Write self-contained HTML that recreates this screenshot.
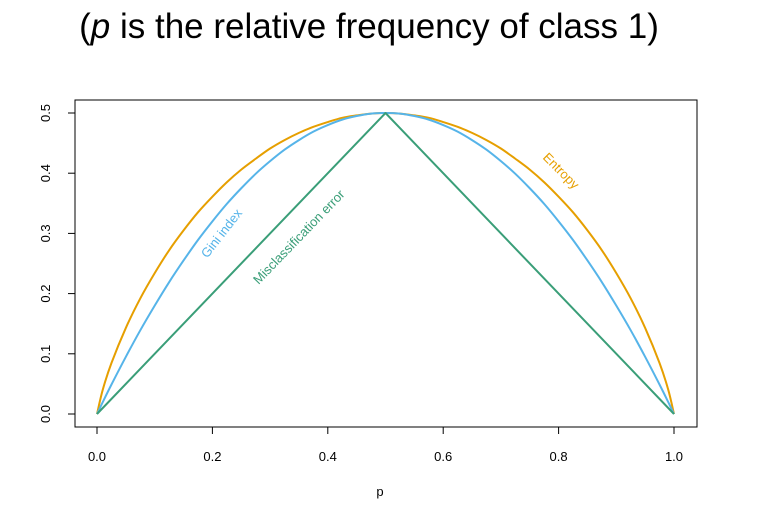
<!DOCTYPE html>
<html><head><meta charset="utf-8"><style>
body{margin:0;background:#fff;}
svg text{font-family:"Liberation Sans",sans-serif;}
</style></head><body>
<svg id="chart" width="760" height="520" viewBox="0 0 760 520">
<text x="369" y="38" text-anchor="middle" font-size="35" fill="#000">(<tspan font-style="italic">p</tspan> is the relative frequency of class 1)</text>
<rect x="75" y="100" width="622" height="327" fill="none" stroke="#000" stroke-width="1"/>
<g id="axes"></g>
<g id="series"></g>
<text x="380" y="496" text-anchor="middle" font-size="13">p</text>
<text transform="translate(225,236) rotate(-52)" text-anchor="middle" font-size="13" fill="#56B4E9">Gini index</text>
<text transform="translate(302,240) rotate(-46)" text-anchor="middle" font-size="13" fill="#3A9E78">Misclassification error</text>
<text transform="translate(558,174) rotate(45)" text-anchor="middle" font-size="13" fill="#E69F00">Entropy</text>
</svg>
<script>
const pVals=[0,0.01,0.025,0.05,0.075,0.1,0.125,0.15,0.175,0.2,0.225,0.25,0.275,0.3,0.325,0.35,0.375,0.4,0.425,0.45,0.475,0.5,0.525,0.55,0.575,0.6,0.625,0.65,0.675,0.7,0.725,0.75,0.775,0.8,0.825,0.85,0.875,0.9,0.925,0.95,0.975,0.99,1];
const giniVals=[0,0.0198,0.0488,0.095,0.139,0.18,0.219,0.255,0.289,0.32,0.349,0.375,0.399,0.42,0.439,0.455,0.469,0.48,0.489,0.495,0.499,0.5,0.499,0.495,0.489,0.48,0.469,0.455,0.439,0.42,0.399,0.375,0.349,0.32,0.289,0.255,0.219,0.18,0.139,0.095,0.0488,0.0198,0];
const entropyVals=[0,0.0404,0.0845,0.143,0.192,0.234,0.272,0.305,0.335,0.361,0.385,0.406,0.424,0.441,0.455,0.467,0.477,0.485,0.492,0.496,0.499,0.5,0.499,0.496,0.492,0.485,0.477,0.467,0.455,0.441,0.424,0.406,0.385,0.361,0.335,0.305,0.272,0.234,0.192,0.143,0.0845,0.0404,0];
const misclassP=[0,0.5,1];
const misclassVals=[0,0.5,0];
const xTicks=["0.0","0.2","0.4","0.6","0.8","1.0"];
const yTicks=["0.0","0.1","0.2","0.3","0.4","0.5"];
const NS="http://www.w3.org/2000/svg";
const xs=v=>97+v*577;
const ys=v=>414-v*602;
const axes=document.getElementById('axes');
function mk(tag,attrs,parent){const e=document.createElementNS(NS,tag);for(const k in attrs)e.setAttribute(k,attrs[k]);parent.appendChild(e);return e;}
mk('line',{x1:xs(0),x2:xs(1),y1:427,y2:427,stroke:'#000'},axes);
mk('line',{x1:75,x2:75,y1:ys(0),y2:ys(0.5),stroke:'#000'},axes);
xTicks.forEach(t=>{const v=parseFloat(t);
 const l=mk('line',{x1:xs(v),x2:xs(v),y1:427,y2:434,stroke:'#000'},axes);
 
 
 const tx=mk('text',{x:xs(v),y:461,'text-anchor':'middle','font-size':'13'},axes);tx.textContent=t;
 
 
});
yTicks.forEach(t=>{const v=parseFloat(t);
 const l=mk('line',{x1:68,x2:75,y1:ys(v),y2:ys(v),stroke:'#000'},axes);
 
 
 const tx=mk('text',{transform:`translate(50,${ys(v)}) rotate(-90)`,'text-anchor':'middle','font-size':'13'},axes);tx.textContent=t;
 
 
});
const series=document.getElementById('series');
function smoothPath(pts){
 let d='M'+pts[0][0].toFixed(2)+','+pts[0][1].toFixed(2);
 for(let i=0;i<pts.length-1;i++){
  const p0=pts[Math.max(0,i-1)],p1=pts[i],p2=pts[i+1],p3=pts[Math.min(pts.length-1,i+2)];
  const c1=[p1[0]+(p2[0]-p0[0])/6,p1[1]+(p2[1]-p0[1])/6];
  const c2=[p2[0]-(p3[0]-p1[0])/6,p2[1]-(p3[1]-p1[1])/6];
  d+=` C${c1[0].toFixed(2)},${c1[1].toFixed(2)} ${c2[0].toFixed(2)},${c2[1].toFixed(2)} ${p2[0].toFixed(2)},${p2[1].toFixed(2)}`;
 }
 return d;
}
function line(px,vals,color,name,smooth){
 const pts=vals.map((v,i)=>[xs(px[i]),ys(v)]);
 const d=smooth?smoothPath(pts):pts.map((q,i)=>(i?'L':'M')+q[0].toFixed(2)+','+q[1].toFixed(2)).join(' ');
 const p=mk('path',{d:d,fill:'none',stroke:color,'stroke-width':'2','stroke-linejoin':'round'},series);
 
 
}
line(pVals,entropyVals,'#E69F00','entropy-line',true);
line(pVals,giniVals,'#56B4E9','gini-line',true);
line(misclassP,misclassVals,'#3A9E78','misclassification-line',false);
</script>
</body></html>
